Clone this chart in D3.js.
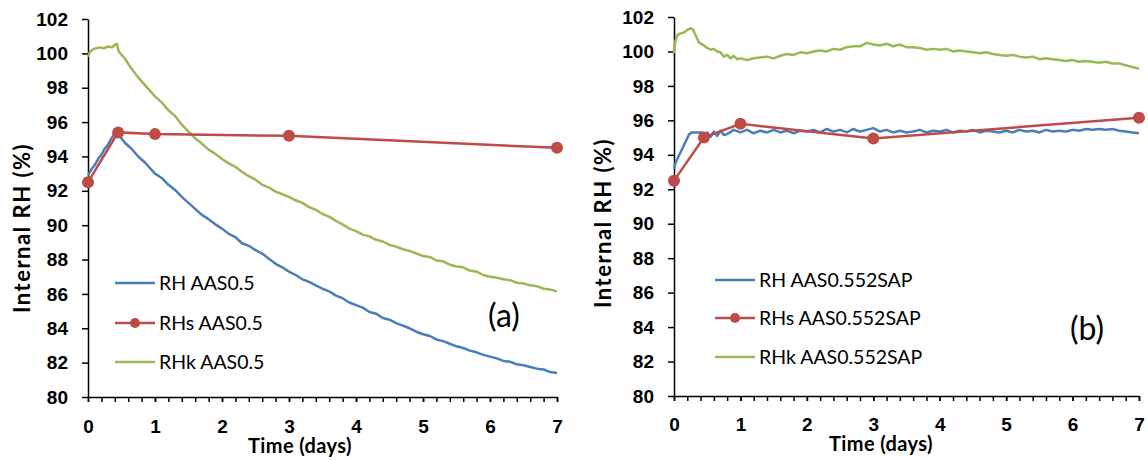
<!DOCTYPE html>
<html>
<head>
<meta charset="utf-8">
<script src="https://cdn.jsdelivr.net/npm/d3@7"></script>
<style>
  body { margin: 0; background: #fff; }
  svg { display: block; font-family: Lato, "Open Sans", sans-serif; }
  .axis path, .axis line { stroke: #000; stroke-width: 1.5px; }
  .axis text { font-size: 19px; font-weight: bold; fill: #000; }
  .title { font-weight: bold; fill: #000; }
  .legend text { font-size: 19.5px; fill: #000; }
  .tag { font-size: 32px; fill: #000; }
</style>
</head>
<body>
<div id="chart"></div>
<script>
// Series: [time (days), RH (%)]

// (a) AAS0.5
const rhA = [[0,92.9],[0.05,93.25],[0.1,93.5],[0.15,93.85],[0.2,94.1],[0.25,94.45],[0.3,94.7],[0.35,95.05],[0.4,95.35],[0.43,95.5],[0.47,95.2],[0.55,94.8],[0.65,94.45],[0.75,94.0],[0.85,93.65],[1.0,93.0],[1.1,92.75],[1.2,92.35],[1.3,92.05],[1.4,91.65],[1.5,91.3],[1.6,90.95],[1.7,90.6],[1.8,90.35],[1.9,90.05],[2.0,89.8],[2.1,89.5],[2.2,89.3],[2.3,88.95],[2.4,88.8],[2.5,88.55],[2.6,88.35],[2.7,88.05],[2.8,87.75],[2.9,87.55],[3.0,87.3],[3.1,87.1],[3.2,86.85],[3.3,86.7],[3.4,86.5],[3.5,86.3],[3.6,86.15],[3.7,85.9],[3.8,85.75],[3.9,85.5],[4.0,85.35],[4.1,85.2],[4.2,84.95],[4.3,84.85],[4.4,84.6],[4.5,84.5],[4.6,84.3],[4.7,84.15],[4.8,84.0],[4.9,83.8],[5.0,83.65],[5.1,83.55],[5.2,83.35],[5.3,83.25],[5.4,83.1],[5.5,82.95],[5.6,82.85],[5.7,82.7],[5.8,82.6],[5.9,82.45],[6.0,82.35],[6.1,82.25],[6.2,82.1],[6.3,82.05],[6.4,81.9],[6.5,81.85],[6.6,81.75],[6.7,81.65],[6.8,81.6],[6.9,81.45],[7.0,81.4]]
const rhsA = [[0,92.5],[0.45,95.4],[1,95.3],[3,95.2],[7,94.5]]
const rhkA = [[0,99.8],[0.03,100.1],[0.08,100.25],[0.12,100.3],[0.18,100.35],[0.24,100.3],[0.3,100.4],[0.36,100.35],[0.4,100.5],[0.43,100.55],[0.46,100.1],[0.55,99.7],[0.65,99.1],[0.75,98.6],[0.85,98.15],[1.0,97.5],[1.1,97.15],[1.2,96.7],[1.3,96.35],[1.4,95.85],[1.5,95.45],[1.6,95.05],[1.7,94.75],[1.8,94.4],[1.9,94.15],[2.0,93.85],[2.1,93.6],[2.2,93.4],[2.3,93.1],[2.4,92.85],[2.5,92.65],[2.6,92.35],[2.7,92.2],[2.8,91.95],[2.9,91.8],[3.0,91.65],[3.1,91.45],[3.2,91.3],[3.3,91.05],[3.4,90.9],[3.5,90.65],[3.6,90.5],[3.7,90.25],[3.8,90.05],[3.9,89.8],[4.0,89.65],[4.1,89.45],[4.2,89.35],[4.3,89.15],[4.4,89.05],[4.5,88.85],[4.6,88.75],[4.7,88.6],[4.8,88.5],[4.9,88.35],[5.0,88.2],[5.1,88.15],[5.2,87.95],[5.3,87.9],[5.4,87.7],[5.5,87.6],[5.6,87.55],[5.7,87.35],[5.8,87.3],[5.9,87.1],[6.0,87.0],[6.1,86.95],[6.2,86.85],[6.3,86.8],[6.4,86.65],[6.5,86.6],[6.6,86.5],[6.7,86.45],[6.8,86.3],[6.9,86.25],[7.0,86.15]]

// (b) AAS0.552SAP
const rhB = [[0,93.2],[0.03,93.6],[0.08,94.0],[0.13,94.4],[0.18,94.8],[0.23,95.2],[0.27,95.3],[0.35,95.3],[0.42,95.3],[0.46,95.1],[0.5,95.3],[0.55,95.05],[0.6,95.35],[0.65,95.1],[0.7,95.4],[0.75,95.15],[0.8,95.2],[0.9,95.45],[1.0,95.3],[1.1,95.45],[1.2,95.25],[1.3,95.4],[1.4,95.3],[1.5,95.45],[1.6,95.3],[1.7,95.4],[1.8,95.25],[1.9,95.4],[2.0,95.35],[2.1,95.45],[2.2,95.3],[2.3,95.5],[2.4,95.35],[2.5,95.45],[2.6,95.3],[2.7,95.5],[2.8,95.35],[2.9,95.45],[3.0,95.55],[3.1,95.35],[3.2,95.45],[3.3,95.3],[3.4,95.4],[3.5,95.3],[3.6,95.35],[3.7,95.45],[3.8,95.3],[3.9,95.4],[4.0,95.35],[4.1,95.45],[4.2,95.3],[4.3,95.4],[4.4,95.35],[4.5,95.45],[4.6,95.3],[4.7,95.4],[4.8,95.35],[4.9,95.3],[5.0,95.4],[5.1,95.3],[5.2,95.45],[5.3,95.35],[5.4,95.4],[5.5,95.3],[5.6,95.45],[5.7,95.35],[5.8,95.4],[5.9,95.35],[6.0,95.45],[6.1,95.4],[6.2,95.5],[6.3,95.45],[6.4,95.5],[6.5,95.45],[6.6,95.5],[6.7,95.4],[6.8,95.35],[6.9,95.3],[7.0,95.25]]
const rhsB = [[0,92.5],[0.45,95.0],[1,95.8],[3,94.95],[7,96.15]]
const rhkB = [[0,99.9],[0.02,100.6],[0.05,100.95],[0.1,101.05],[0.15,101.1],[0.2,101.25],[0.25,101.35],[0.28,101.3],[0.33,100.9],[0.38,100.5],[0.45,100.35],[0.5,100.2],[0.55,100.1],[0.6,100.15],[0.65,100.0],[0.7,99.95],[0.75,99.7],[0.8,99.8],[0.85,99.6],[0.9,99.75],[0.95,99.55],[1.0,99.6],[1.1,99.5],[1.2,99.6],[1.3,99.65],[1.4,99.7],[1.5,99.6],[1.6,99.75],[1.7,99.85],[1.8,99.8],[1.9,99.95],[2.0,99.9],[2.1,100.0],[2.2,100.05],[2.3,100.0],[2.4,100.15],[2.5,100.1],[2.6,100.25],[2.7,100.3],[2.8,100.3],[2.9,100.5],[3.0,100.4],[3.1,100.35],[3.2,100.45],[3.3,100.3],[3.4,100.4],[3.5,100.25],[3.6,100.25],[3.7,100.2],[3.8,100.1],[3.9,100.15],[4.0,100.1],[4.1,100.15],[4.2,100.0],[4.3,100.05],[4.4,100.0],[4.5,99.95],[4.6,99.9],[4.7,99.95],[4.8,99.85],[4.9,99.8],[5.0,99.75],[5.1,99.8],[5.2,99.7],[5.3,99.65],[5.4,99.7],[5.5,99.55],[5.6,99.6],[5.7,99.55],[5.8,99.5],[5.9,99.45],[6.0,99.5],[6.1,99.4],[6.2,99.45],[6.3,99.4],[6.4,99.35],[6.5,99.4],[6.6,99.3],[6.7,99.3],[6.8,99.2],[6.9,99.1],[7.0,99.0]]

const labelsA = ['RH AAS0.5', 'RHs AAS0.5', 'RHk AAS0.5']
const labelsB = ['RH AAS0.552SAP', 'RHs AAS0.552SAP', 'RHk AAS0.552SAP']

const xTicks = [0, 1, 2, 3, 4, 5, 6, 7]
const xMinor = d3.range(0, 7.01, 0.2)
const yTicks = [80, 82, 84, 86, 88, 90, 92, 94, 96, 98, 100, 102]

const colors = ['#4a7ebb', '#be4b48', '#98b954']

const width = 1148
const height = 460

const svg = d3.select('#chart')
  .append('svg')
  .attr('width', width)
  .attr('height', height)

const drawPanel = (p) => {
  const x = d3.scaleLinear().domain([0, 7]).range([p.left, p.right])
  const y = d3.scaleLinear().domain([80, 102]).range([p.bottom, p.top])
  const g = svg.append('g')

  // minor x ticks
  g.append('g')
    .attr('class', 'axis')
    .attr('transform', `translate(0,${p.bottom})`)
    .call(d3.axisBottom(x).tickValues(xMinor).tickSize(5).tickFormat(''))
    .select('.domain').remove()

  g.append('g')
    .attr('class', 'axis')
    .attr('transform', `translate(0,${p.bottom})`)
    .call(d3.axisBottom(x).tickValues(xTicks).tickFormat(d3.format('d'))
      .tickSize(5).tickSizeOuter(0).tickPadding(p.xPad))

  g.append('g')
    .attr('class', 'axis')
    .attr('transform', `translate(${p.left},0)`)
    .call(d3.axisLeft(y).tickValues(yTicks).tickSize(6).tickSizeOuter(0).tickPadding(14))

  // titles
  g.append('text')
    .attr('class', 'title')
    .attr('text-anchor', 'middle')
    .attr('font-size', 22)
    .attr('letter-spacing', 1.5)
    .attr('transform', `translate(${p.yTitleX},${p.yTitleY}) rotate(-90)`)
    .text('Internal RH (%)')

  g.append('text')
    .attr('class', 'title')
    .attr('text-anchor', 'middle')
    .attr('font-size', 20)
    .attr('letter-spacing', 0.4)
    .attr('x', p.xTitleX)
    .attr('y', p.xTitleY)
    .text('Time (days)')

  const line = d3.line().x(d => x(d[0])).y(d => y(d[1]))

  g.append('path').datum(p.rh)
    .attr('fill', 'none').attr('stroke', colors[0]).attr('stroke-width', 2.5)
    .attr('stroke-linejoin', 'round').attr('d', line)
  g.append('path').datum(p.rhk)
    .attr('fill', 'none').attr('stroke', colors[2]).attr('stroke-width', 2.5)
    .attr('stroke-linejoin', 'round').attr('d', line)
  g.append('path').datum(p.rhs)
    .attr('fill', 'none').attr('stroke', colors[1]).attr('stroke-width', 2.5)
    .attr('d', line)
  g.selectAll('.dot').data(p.rhs).enter().append('circle')
    .attr('class', 'dot')
    .attr('cx', d => x(d[0])).attr('cy', d => y(d[1]))
    .attr('r', 6).attr('fill', colors[1])

  // legend
  const legend = g.append('g').attr('class', 'legend')
  const items = legend.selectAll('g').data(p.labels).enter().append('g')
    .attr('transform', (d, i) => `translate(${p.legX},${p.legY[i]})`)
  items.append('line')
    .attr('x1', 0).attr('x2', 40)
    .attr('stroke', (d, i) => colors[i]).attr('stroke-width', 2.5)
  items.filter((d, i) => i === 1).append('circle')
    .attr('cx', 20).attr('r', 5).attr('fill', colors[1])
  items.append('text')
    .attr('x', 44).attr('dy', '0.35em')
    .text(d => d)

  g.append('text')
    .attr('class', 'tag')
    .attr('text-anchor', 'middle')
    .attr('x', p.tagX).attr('y', p.tagY)
    .text(p.tag)
}

drawPanel({
  left: 88, right: 557, top: 19, bottom: 397, xPad: 18,
  rh: rhA, rhs: rhsA, rhk: rhkA, labels: labelsA,
  yTitleX: 30, yTitleY: 228, xTitleX: 300, xTitleY: 453,
  legX: 115, legY: [283, 323, 362],
  tag: '(a)', tagX: 504, tagY: 327
})

drawPanel({
  left: 674, right: 1139, top: 17, bottom: 396, xPad: 17,
  rh: rhB, rhs: rhsB, rhk: rhkB, labels: labelsB,
  yTitleX: 611, yTitleY: 223, xTitleX: 881, xTitleY: 451,
  legX: 715, legY: [280, 318, 357],
  tag: '(b)', tagX: 1087, tagY: 340
})
</script>
</body>
</html>
